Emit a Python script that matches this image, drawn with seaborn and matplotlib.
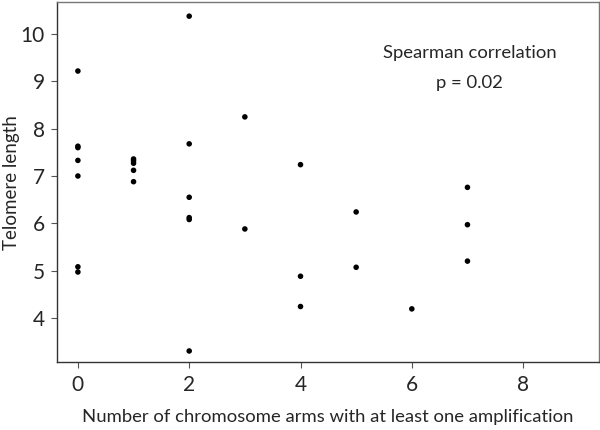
import numpy as np
import pandas as pd
import matplotlib
matplotlib.use("Agg")
import matplotlib.pyplot as plt
import seaborn as sns

# Values
arms = [0, 0, 0, 0, 0, 0, 0,
        1, 1, 1, 1, 1,
        2, 2, 2, 2, 2, 2,
        3, 3,
        4, 4, 4,
        5, 5,
        6,
        7, 7, 7]
telomere = [9.22, 7.63, 7.60, 7.33, 7.00, 5.08, 4.97,
            7.36, 7.32, 7.27, 7.12, 6.88,
            10.38, 7.68, 6.55, 6.12, 6.08, 3.30,
            8.25, 5.88,
            7.24, 4.88, 4.24,
            6.24, 5.07,
            4.19,
            6.76, 5.97, 5.20]

df = pd.DataFrame({"arms": arms, "telomere": telomere})

sns.set_style("ticks")
plt.rcParams["font.family"] = ["Lato", "DejaVu Sans"]

fig = plt.figure(figsize=(6, 4.3), dpi=100)
ax = fig.add_axes([0.0955, 0.1574, 0.9025, 0.838])
sns.scatterplot(data=df, x="arms", y="telomere", color="black", s=16,
                edgecolor="none", ax=ax)

ax.set_xlim(-0.37, 9.36)
ax.set_ylim(3.06, 10.68)
ax.set_xticks([0, 2, 4, 6, 8])
ax.set_yticks([4, 5, 6, 7, 8, 9, 10])
ax.tick_params(labelsize=15, length=4, width=0.8, color="#555555", pad=5)
for side in ["left", "bottom"]:
    ax.spines[side].set_color("#333333")
    ax.spines[side].set_linewidth(1.0)
for side in ["top", "right"]:
    ax.spines[side].set_visible(True)
    ax.spines[side].set_color("#777777")
    ax.spines[side].set_linewidth(1.0)

ax.set_xlabel("Number of chromosome arms with at least one amplification",
              fontsize=13.3, labelpad=10)
ax.set_ylabel("Telomere length", fontsize=13.5)
ax.yaxis.set_label_coords(-0.068, 0.5)

ax.text(7.04, 9.6, "Spearman correlation", ha="center", va="center",
        fontsize=13.3)
ax.text(7.04, 8.97, "p = 0.02", ha="center", va="center", fontsize=13.3)

fig.savefig("out.png", dpi=100)
